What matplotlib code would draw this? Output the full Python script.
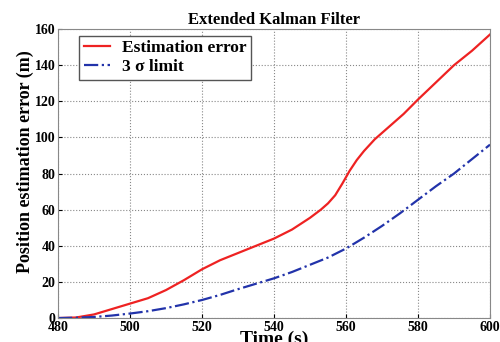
import matplotlib
matplotlib.use("Agg")
import matplotlib.pyplot as plt
import numpy as np

plt.rcParams['font.family'] = ['Liberation Serif', 'DejaVu Serif']
plt.rcParams['font.weight'] = 'bold'

time_s = [480, 485, 490, 495, 500, 505, 510, 515, 520, 525, 530, 535, 540, 545, 550, 553, 555, 557, 559, 561, 563, 565, 568, 572, 576, 580, 585, 590, 595, 600]
est_err = [0, 0.3, 2, 5, 8, 11, 15.5, 21, 27, 32, 36, 40, 44, 49, 55.5, 60, 63.5, 68, 74.5, 81.5, 87.5, 92.5, 99, 106, 113, 121, 130.5, 140, 148, 157]
time_b = [480, 485, 490, 495, 500, 505, 510, 515, 520, 525, 530, 535, 540, 545, 550, 555, 560, 565, 570, 575, 580, 585, 590, 595, 600]
sigma3 = [0, 0.2, 0.6, 1.4, 2.5, 3.8, 5.5, 7.6, 10, 12.8, 16, 19, 22, 25.5, 29.5, 33.5, 38.5, 44.5, 51, 58, 65.5, 73, 80, 88, 96]

fig = plt.figure(figsize=(5, 3.42), dpi=100)
ax = fig.add_axes([0.116, 0.070, 0.864, 0.845])
ax.plot(time_s, est_err, color='#ee2222', lw=1.6, label='Estimation error')
ax.plot(time_b, sigma3, color='#2233aa', lw=1.6, ls='-.', label='3 σ limit')
ax.set_xlim(480, 600)
ax.set_ylim(0, 160)
ax.set_xticks(range(480, 601, 20))
ax.set_yticks(range(0, 161, 20))
ax.grid(True, ls=':', color='#888888', lw=0.8)
ax.tick_params(labelsize=10, direction='in', length=3, pad=2)
for s in ax.spines.values():
    s.set_color('#888888')
ax.set_title('Extended Kalman Filter', fontsize=12, fontweight='bold', pad=4)
ax.set_xlabel('Time (s)', fontsize=14, fontweight='bold', labelpad=-2)
ax.set_ylabel('Position estimation error (m)', fontsize=13, fontweight='bold')
ax.yaxis.set_label_coords(-0.056, 0.54)
leg = ax.legend(loc='upper left', fontsize=12.5, fancybox=False, edgecolor='#555555',
                framealpha=1, handlelength=1.5, handletextpad=0.7, borderaxespad=0,
                borderpad=0.25, labelspacing=0.15, bbox_to_anchor=(0.049, 0.976))
fig.savefig('out.png', dpi=100)
